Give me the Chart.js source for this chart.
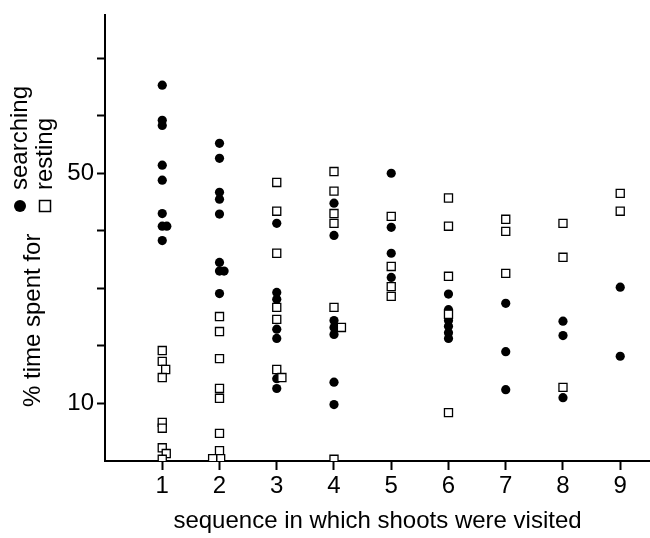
<!DOCTYPE html>
<html>
<head>
<meta charset="utf-8">
<script src="https://cdn.jsdelivr.net/npm/chart.js@4"></script>
<style>
  html, body { margin: 0; padding: 0; background: #fff; overflow: hidden; }
  #wrap { width: 650px; height: 538px; position: relative; overflow: hidden; }
  #chart { display: block; }
</style>
</head>
<body>
<div id="wrap"><canvas id="chart"></canvas></div>
<script>
// shoot visit order (x categories)
const sequence = [1, 2, 3, 4, 5, 6, 7, 8, 9];

// % time searching (filled circles)
const searchingX = [
  1, 1, 1, 1, 1, 1, 1, 1.08, 1,
  2, 2, 2, 2, 2, 2, 2, 2.08, 2,
  3, 3, 3, 3, 3, 3, 3,
  4, 4, 4, 4, 4, 4, 4,
  5, 5, 5, 5,
  6, 6, 6, 6, 6, 6,
  7, 7, 7,
  8, 8, 8,
  9, 9
];
const searchingPct = [
  65.3, 59.2, 58.3, 51.4, 48.8, 43.0, 40.8, 40.8, 38.3,
  55.2, 52.6, 46.7, 45.5, 42.9, 34.5, 33.0, 33.0, 29.1,
  41.3, 29.3, 28.1, 22.9, 21.3, 14.3, 12.6,
  44.8, 39.2, 24.4, 23.2, 22.0, 13.7, 9.8,
  50.0, 40.6, 36.1, 31.9,
  29.0, 26.3, 24.4, 23.4, 22.3, 21.3,
  27.4, 19.0, 12.4,
  24.3, 21.8, 11.0,
  30.2, 18.2
];

// % time resting (open squares)
const restingX = [
  1, 1, 1.06, 1, 1, 1, 1, 1.07, 1,
  2, 2, 2, 2, 2, 2, 2, 2.02, 1.88,
  3, 3, 3, 3, 3, 3, 3.09,
  4, 4, 4, 4, 4, 4.13, 4,
  5, 5, 5, 5,
  6, 6, 6, 6, 6,
  7, 7, 7,
  8, 8, 8,
  9, 9
];
const restingPct = [
  19.2, 17.3, 15.9, 14.5, 6.7, 5.7, 2.3, 1.3, 0.3,
  25.1, 22.5, 17.8, 12.6, 10.9, 4.8, 1.8, 0.4, 0.4,
  48.4, 43.4, 36.1, 26.7, 24.6, 15.9, 14.5,
  50.3, 46.9, 43.0, 41.3, 26.7, 23.2, 0.3,
  42.5, 33.8, 30.3, 28.6,
  45.7, 40.8, 32.1, 25.5, 8.4,
  42.0, 39.9, 32.6,
  41.3, 35.4, 12.8,
  46.5, 43.4
];

const yTicks = [10, 20, 30, 40, 50, 60, 70];
const yTickLabels = ['10', '', '', '', '50', '', ''];
const yMax = 77.5;
const xMax = 9.52;

const yTitleLead = '% time spent for';
const seriesNames = ['searching', 'resting'];
const xTitle = 'sequence in which shoots were visited';

const FONT = 'Liberation Sans';

function toPoints(xs, ys) {
  return xs.map((x, i) => ({ x: x, y: ys[i] }));
}

// rotated y title with the two-line key
const yTitlePlugin = {
  id: 'yTitle',
  afterDraw(chart) {
    const ctx = chart.ctx;
    const line = (text, x, y) => {
      ctx.save();
      ctx.translate(x, y);
      ctx.rotate(-Math.PI / 2);
      ctx.fillText(text, 0, 0);
      ctx.restore();
    };
    ctx.save();
    ctx.fillStyle = '#000';
    ctx.strokeStyle = '#000';
    ctx.font = '24px "' + FONT + '"';
    ctx.textAlign = 'left';
    ctx.textBaseline = 'middle';
    line(yTitleLead, 33, 407);
    line(seriesNames[0], 20, 190);
    line(seriesNames[1], 45, 190);
    ctx.beginPath();
    ctx.arc(20, 206, 6, 0, Math.PI * 2);
    ctx.fill();
    ctx.lineWidth = 1.5;
    ctx.strokeRect(45 - 5.5, 206 - 5.5, 11, 11);
    ctx.restore();
  }
};

const ctx = document.getElementById('chart').getContext('2d');
new Chart(ctx, {
  type: 'scatter',
  data: {
    datasets: [
      {
        label: seriesNames[1],
        data: toPoints(restingX, restingPct),
        pointStyle: 'rect',
        pointRadius: 5.7,
        backgroundColor: '#fff',
        borderColor: '#000',
        borderWidth: 1.3
      },
      {
        label: seriesNames[0],
        data: toPoints(searchingX, searchingPct),
        pointStyle: 'circle',
        pointRadius: 4.6,
        backgroundColor: '#000',
        borderColor: '#000',
        borderWidth: 0
      }
    ]
  },
  options: {
    responsive: true,
    maintainAspectRatio: false,
    animation: false,
    layout: { autoPadding: false, padding: { top: 15, right: 0, bottom: 0, left: 0 } },
    plugins: {
      legend: { display: false },
      tooltip: { enabled: false }
    },
    scales: {
      x: {
        type: 'linear',
        min: 0,
        max: xMax,
        afterBuildTicks: s => { s.ticks = sequence.map(v => ({ value: v })); },
        afterFit: s => { s.height = 77; s.paddingLeft = 0; s.paddingRight = 0; },
        border: { color: '#000', width: 2 },
        grid: { drawOnChartArea: false, tickLength: 9, tickWidth: 2, color: '#000' },
        ticks: {
          autoSkip: false,
          maxRotation: 0,
          padding: 2,
          color: '#000',
          font: { family: FONT, size: 24 },
          callback: (v, i) => String(sequence[i])
        },
        title: {
          display: true,
          text: xTitle,
          color: '#000',
          font: { family: FONT, size: 24 },
          padding: { top: 0, bottom: 2 }
        }
      },
      y: {
        type: 'linear',
        min: 0,
        max: yMax,
        afterBuildTicks: s => { s.ticks = yTicks.map(v => ({ value: v })); },
        afterFit: s => { s.width = 105; s.paddingTop = 0; s.paddingBottom = 0; },
        border: { color: '#000', width: 2 },
        grid: { drawOnChartArea: false, tickLength: 8, tickWidth: 2, color: '#000' },
        ticks: {
          padding: 3,
          color: '#000',
          font: { family: FONT, size: 24 },
          callback: (v, i) => yTickLabels[i]
        }
      }
    }
  },
  plugins: [yTitlePlugin]
});
</script>
</body>
</html>
